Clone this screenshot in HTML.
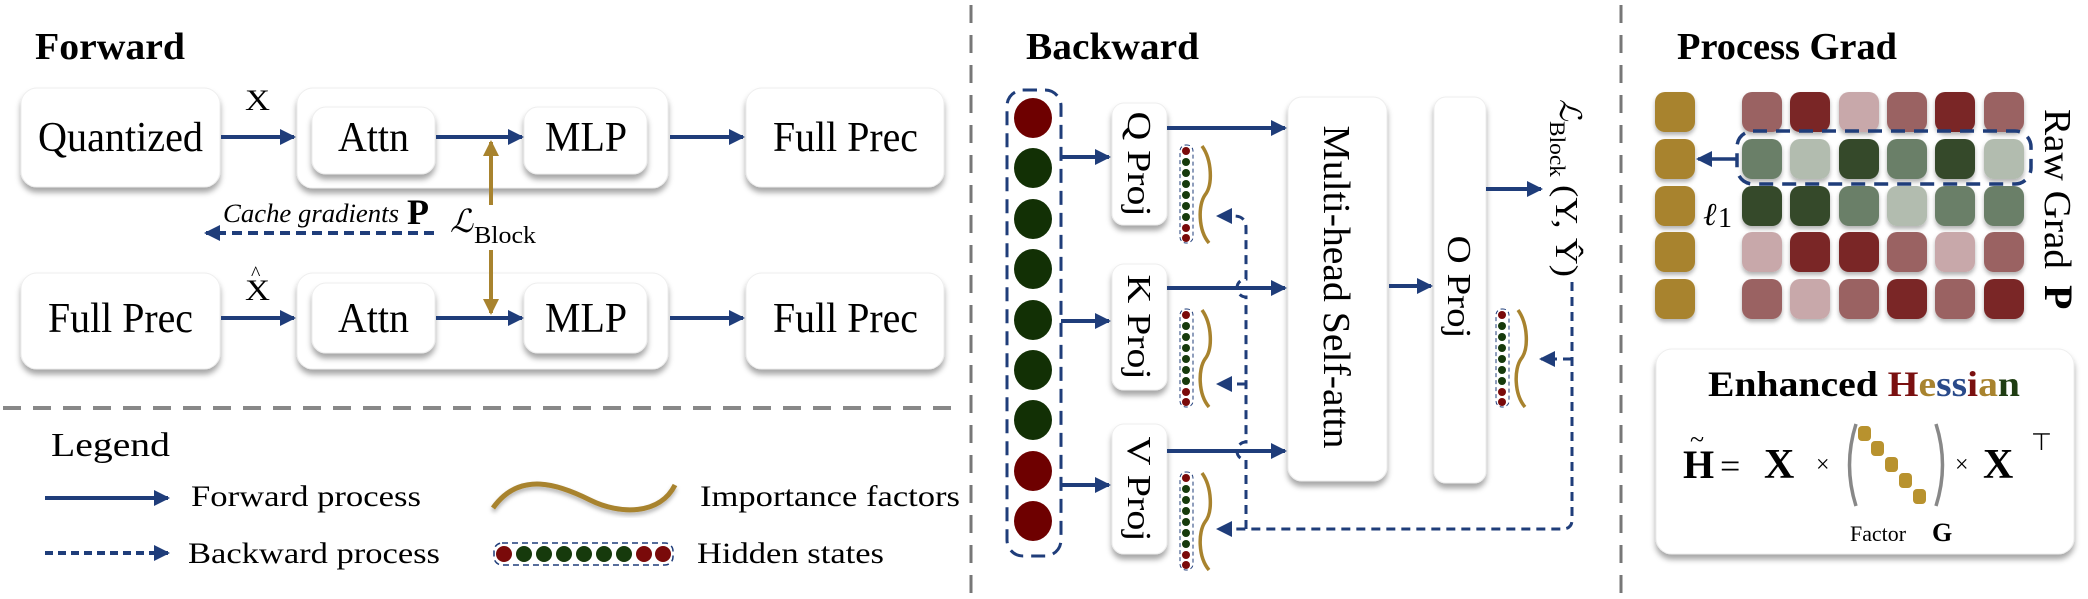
<!DOCTYPE html>
<html><head><meta charset="utf-8"><style>
html,body{margin:0;padding:0;background:#fff}
svg{display:block}
svg text{font-family:"Liberation Serif","Times New Roman",serif}
</style></head><body>
<svg width="2088" height="599" viewBox="0 0 2088 599" xmlns="http://www.w3.org/2000/svg" font-family="Liberation Serif, serif">
<defs>
<filter id="sh" x="-20%" y="-20%" width="140%" height="150%"><feDropShadow dx="0" dy="5" stdDeviation="3" flood-color="#000" flood-opacity="0.35"/></filter>
<filter id="sh2" x="-30%" y="-30%" width="160%" height="160%"><feDropShadow dx="0" dy="3" stdDeviation="2" flood-color="#000" flood-opacity="0.3"/></filter>
<marker id="ahb" markerWidth="16" markerHeight="16" refX="14" refY="8" orient="auto" markerUnits="userSpaceOnUse"><path d="M0,0 L16,8 L0,16 z" fill="#1f3d7a"/></marker>
<marker id="ahg" markerWidth="16" markerHeight="16" refX="14" refY="8" orient="auto" markerUnits="userSpaceOnUse"><path d="M0,0 L16,8 L0,16 z" fill="#a8832e"/></marker>
</defs>

<line x1="971" y1="5" x2="971" y2="595" stroke="#777" stroke-width="3" stroke-dasharray="18,12"/>
<line x1="1621" y1="5" x2="1621" y2="595" stroke="#777" stroke-width="3" stroke-dasharray="18,12"/>
<line x1="3" y1="408" x2="957" y2="408" stroke="#888" stroke-width="4" stroke-dasharray="18,12"/>

<text x="35" y="59" font-size="38" font-weight="bold" textLength="150" lengthAdjust="spacingAndGlyphs">Forward</text>

<g filter="url(#sh)" fill="#fff" stroke="#eee" stroke-width="1">
<rect x="21" y="88" width="199" height="99" rx="16"/>
<rect x="297" y="88" width="371" height="100" rx="16"/>
<rect x="746" y="88" width="198" height="99" rx="16"/>
<rect x="21" y="273" width="199" height="96" rx="16"/>
<rect x="297" y="273" width="371" height="96" rx="16"/>
<rect x="746" y="273" width="198" height="96" rx="16"/>
</g>
<g filter="url(#sh)" fill="#fff" stroke="#eee" stroke-width="1">
<rect x="312" y="107" width="123" height="67" rx="14"/>
<rect x="524" y="107" width="123" height="67" rx="14"/>
<rect x="312" y="283" width="123" height="70" rx="14"/>
<rect x="524" y="283" width="123" height="70" rx="14"/>
</g>
<g font-size="42">
<text x="38" y="151" textLength="165" lengthAdjust="spacingAndGlyphs">Quantized</text>
<text x="338" y="151" textLength="71" lengthAdjust="spacingAndGlyphs">Attn</text>
<text x="545" y="151" textLength="82" lengthAdjust="spacingAndGlyphs">MLP</text>
<text x="773" y="151" textLength="145" lengthAdjust="spacingAndGlyphs">Full Prec</text>
<text x="48" y="332" textLength="145" lengthAdjust="spacingAndGlyphs">Full Prec</text>
<text x="338" y="332" textLength="71" lengthAdjust="spacingAndGlyphs">Attn</text>
<text x="545" y="332" textLength="82" lengthAdjust="spacingAndGlyphs">MLP</text>
<text x="773" y="332" textLength="145" lengthAdjust="spacingAndGlyphs">Full Prec</text>
</g>
<text x="245" y="110" font-size="30" textLength="25" lengthAdjust="spacingAndGlyphs">X</text>
<text x="245" y="300" font-size="30" textLength="25" lengthAdjust="spacingAndGlyphs">X</text>
<text x="251" y="280" font-size="20">^</text>

<g stroke="#1f3d7a" stroke-width="4" fill="none">
<line x1="221" y1="137" x2="294" y2="137" marker-end="url(#ahb)"/>
<line x1="436" y1="137" x2="522" y2="137" marker-end="url(#ahb)"/>
<line x1="670" y1="137" x2="743" y2="137" marker-end="url(#ahb)"/>
<line x1="221" y1="318" x2="294" y2="318" marker-end="url(#ahb)"/>
<line x1="436" y1="318" x2="522" y2="318" marker-end="url(#ahb)"/>
<line x1="670" y1="318" x2="743" y2="318" marker-end="url(#ahb)"/>
<line x1="434" y1="233" x2="206" y2="233" stroke-dasharray="10,6" marker-end="url(#ahb)"/>
</g>
<g stroke="#a8832e" stroke-width="4" fill="none">
<line x1="491" y1="205" x2="491" y2="142" marker-end="url(#ahg)"/>
<line x1="491" y1="250" x2="491" y2="313" marker-end="url(#ahg)"/>
</g>
<text x="223" y="222" font-size="26" font-style="italic" textLength="176" lengthAdjust="spacingAndGlyphs">Cache gradients</text>
<text x="407" y="224" font-size="36" font-weight="bold">P</text>
<text x="450" y="232" font-size="32" font-style="italic">ℒ</text>
<text x="474" y="243" font-size="24" textLength="62" lengthAdjust="spacingAndGlyphs">Block</text>

<text x="51" y="456" font-size="34" textLength="119" lengthAdjust="spacingAndGlyphs">Legend</text>
<line x1="45" y1="498" x2="168" y2="498" stroke="#1f3d7a" stroke-width="4" marker-end="url(#ahb)"/>
<line x1="45" y1="553" x2="168" y2="553" stroke="#1f3d7a" stroke-width="4" stroke-dasharray="8,5" marker-end="url(#ahb)"/>
<text x="191" y="506" font-size="30" textLength="230" lengthAdjust="spacingAndGlyphs">Forward process</text>
<text x="188" y="563" font-size="30" textLength="252" lengthAdjust="spacingAndGlyphs">Backward process</text>
<path d="M493,508 C520,470 560,485 590,500 C620,515 660,515 675,485" stroke="#a8832e" stroke-width="5" fill="none" filter="url(#sh2)"/>
<text x="700" y="506" font-size="30" textLength="260" lengthAdjust="spacingAndGlyphs">Importance factors</text>
<rect x="494" y="543" width="179" height="22" rx="8" fill="none" stroke="#1f3d7a" stroke-width="1.5" stroke-dasharray="6,4"/>
<g>
<circle cx="504" cy="554" r="8" fill="#7a0a0a"/>
<circle cx="524" cy="554" r="8" fill="#163a0c"/>
<circle cx="544" cy="554" r="8" fill="#163a0c"/>
<circle cx="564" cy="554" r="8" fill="#163a0c"/>
<circle cx="584" cy="554" r="8" fill="#163a0c"/>
<circle cx="604" cy="554" r="8" fill="#163a0c"/>
<circle cx="624" cy="554" r="8" fill="#163a0c"/>
<circle cx="644" cy="554" r="8" fill="#7a0a0a"/>
<circle cx="663" cy="554" r="8" fill="#7a0a0a"/>
</g>
<text x="697" y="563" font-size="30" textLength="187" lengthAdjust="spacingAndGlyphs">Hidden states</text>

<text x="1026" y="59" font-size="38" font-weight="bold" textLength="173" lengthAdjust="spacingAndGlyphs">Backward</text>
<rect x="1007" y="90" width="54" height="466" rx="16" fill="none" stroke="#1f3d7a" stroke-width="3" stroke-dasharray="14,8"/>
<g>
<ellipse cx="1033" cy="118" rx="19" ry="20" fill="#6e0000"/>
<ellipse cx="1033" cy="168" rx="19" ry="20" fill="#123005"/>
<ellipse cx="1033" cy="219" rx="19" ry="20" fill="#123005"/>
<ellipse cx="1033" cy="269" rx="19" ry="20" fill="#123005"/>
<ellipse cx="1033" cy="320" rx="19" ry="20" fill="#123005"/>
<ellipse cx="1033" cy="370" rx="19" ry="20" fill="#123005"/>
<ellipse cx="1033" cy="420" rx="19" ry="20" fill="#123005"/>
<ellipse cx="1033" cy="471" rx="19" ry="20" fill="#6e0000"/>
<ellipse cx="1033" cy="521" rx="19" ry="20" fill="#6e0000"/>
</g>
<g filter="url(#sh)" fill="#fff" stroke="#eee" stroke-width="1">
<rect x="1112" y="103" width="55" height="122" rx="12"/>
<rect x="1112" y="264" width="55" height="126" rx="12"/>
<rect x="1112" y="424" width="55" height="130" rx="12"/>
<rect x="1288" y="97" width="99" height="384" rx="14"/>
<rect x="1434" y="97" width="52" height="386" rx="12"/>
</g>
<g font-size="34">
<text transform="translate(1128,164) rotate(90)" text-anchor="middle" textLength="105" lengthAdjust="spacingAndGlyphs">Q Proj</text>
<text transform="translate(1128,327) rotate(90)" text-anchor="middle" textLength="105" lengthAdjust="spacingAndGlyphs">K Proj</text>
<text transform="translate(1128,489) rotate(90)" text-anchor="middle" textLength="105" lengthAdjust="spacingAndGlyphs">V Proj</text>
<text transform="translate(1324,287) rotate(90)" text-anchor="middle" font-size="38" textLength="323" lengthAdjust="spacingAndGlyphs">Multi-head Self-attn</text>
<text transform="translate(1448,287) rotate(90)" text-anchor="middle" textLength="103" lengthAdjust="spacingAndGlyphs">O Proj</text>
</g>
<g transform="translate(1560,99) rotate(90)">
<text x="0" y="0" font-size="30" font-style="italic">ℒ</text>
<text x="22" y="10" font-size="22" textLength="56" lengthAdjust="spacingAndGlyphs">Block</text>
<text x="86" y="4" font-size="32" textLength="92" lengthAdjust="spacingAndGlyphs">(Y, Ŷ)</text>
</g>

<g stroke="#1f3d7a" stroke-width="4" fill="none">
<line x1="1061" y1="157" x2="1109" y2="157" marker-end="url(#ahb)"/>
<line x1="1061" y1="321" x2="1109" y2="321" marker-end="url(#ahb)"/>
<line x1="1061" y1="485" x2="1109" y2="485" marker-end="url(#ahb)"/>
<line x1="1167" y1="128" x2="1285" y2="128" marker-end="url(#ahb)"/>
<line x1="1167" y1="288" x2="1285" y2="288" marker-end="url(#ahb)"/>
<line x1="1167" y1="451" x2="1285" y2="451" marker-end="url(#ahb)"/>
<line x1="1389" y1="286" x2="1431" y2="286" marker-end="url(#ahb)"/>
<line x1="1486" y1="189" x2="1541" y2="189" marker-end="url(#ahb)"/>
</g>
<g stroke="#1f3d7a" stroke-width="3" fill="none" stroke-dasharray="9,6">
<path d="M1572,282 L1572,520 Q1572,529 1562,529 L1218,529" marker-end="url(#ahb)"/>
<path d="M1572,359 L1541,359" marker-end="url(#ahb)"/>
<path d="M1246,529 L1246,460 A9,9 0 0 1 1246,442 L1246,297 A9,9 0 0 1 1246,279 L1246,228 Q1246,216 1234,216 L1218,216" marker-end="url(#ahb)"/>
<path d="M1246,384 L1218,384" marker-end="url(#ahb)"/>
</g>

<g id="mini">
<rect x="1180" y="145" width="13" height="98" rx="6" fill="none" stroke="#1f3d7a" stroke-width="1" stroke-dasharray="4,3"/>
<circle cx="1186" cy="151" r="4" fill="#7a0a0a"/><circle cx="1186" cy="162" r="4" fill="#163a0c"/><circle cx="1186" cy="173" r="4" fill="#163a0c"/><circle cx="1186" cy="184" r="4" fill="#163a0c"/><circle cx="1186" cy="195" r="4" fill="#163a0c"/><circle cx="1186" cy="206" r="4" fill="#163a0c"/><circle cx="1186" cy="217" r="4" fill="#163a0c"/><circle cx="1186" cy="228" r="4" fill="#7a0a0a"/><circle cx="1186" cy="238" r="4" fill="#7a0a0a"/>
<path d="M1202,146 C1212,160 1213,185 1205,195 C1198,205 1198,230 1209,243" stroke="#a8832e" stroke-width="3.5" fill="none"/>
</g>
<use href="#mini" x="0" y="164"/>
<use href="#mini" x="0" y="327"/>
<use href="#mini" x="316" y="164"/>

<text x="1677" y="59" font-size="38" font-weight="bold" textLength="220" lengthAdjust="spacingAndGlyphs">Process Grad</text>
<g filter="url(#sh2)">
<rect x="1655" y="92" width="40" height="40" rx="10" fill="#a8832e"/>
<rect x="1655" y="139" width="40" height="40" rx="10" fill="#a8832e"/>
<rect x="1655" y="186" width="40" height="40" rx="10" fill="#a8832e"/>
<rect x="1655" y="232" width="40" height="40" rx="10" fill="#a8832e"/>
<rect x="1655" y="279" width="40" height="40" rx="10" fill="#a8832e"/>
</g>
<g filter="url(#sh2)">
<rect x="1742" y="92" width="40" height="40" rx="10" fill="#9a6262"/>
<rect x="1790" y="92" width="40" height="40" rx="10" fill="#7a2828"/>
<rect x="1839" y="92" width="40" height="40" rx="10" fill="#c8a8aa"/>
<rect x="1887" y="92" width="40" height="40" rx="10" fill="#9a6262"/>
<rect x="1935" y="92" width="40" height="40" rx="10" fill="#7a2828"/>
<rect x="1984" y="92" width="40" height="40" rx="10" fill="#9a6262"/>
<rect x="1742" y="139" width="40" height="40" rx="10" fill="#6a7f68"/>
<rect x="1790" y="139" width="40" height="40" rx="10" fill="#b2bcaf"/>
<rect x="1839" y="139" width="40" height="40" rx="10" fill="#344a2a"/>
<rect x="1887" y="139" width="40" height="40" rx="10" fill="#6a7f68"/>
<rect x="1935" y="139" width="40" height="40" rx="10" fill="#344a2a"/>
<rect x="1984" y="139" width="40" height="40" rx="10" fill="#b2bcaf"/>
<rect x="1742" y="186" width="40" height="40" rx="10" fill="#344a2a"/>
<rect x="1790" y="186" width="40" height="40" rx="10" fill="#344a2a"/>
<rect x="1839" y="186" width="40" height="40" rx="10" fill="#6a7f68"/>
<rect x="1887" y="186" width="40" height="40" rx="10" fill="#b2bcaf"/>
<rect x="1935" y="186" width="40" height="40" rx="10" fill="#6a7f68"/>
<rect x="1984" y="186" width="40" height="40" rx="10" fill="#6a7f68"/>
<rect x="1742" y="232" width="40" height="40" rx="10" fill="#c8a8aa"/>
<rect x="1790" y="232" width="40" height="40" rx="10" fill="#7a2828"/>
<rect x="1839" y="232" width="40" height="40" rx="10" fill="#7a2828"/>
<rect x="1887" y="232" width="40" height="40" rx="10" fill="#9a6262"/>
<rect x="1935" y="232" width="40" height="40" rx="10" fill="#c8a8aa"/>
<rect x="1984" y="232" width="40" height="40" rx="10" fill="#9a6262"/>
<rect x="1742" y="279" width="40" height="40" rx="10" fill="#9a6262"/>
<rect x="1790" y="279" width="40" height="40" rx="10" fill="#c8a8aa"/>
<rect x="1839" y="279" width="40" height="40" rx="10" fill="#9a6262"/>
<rect x="1887" y="279" width="40" height="40" rx="10" fill="#7a2828"/>
<rect x="1935" y="279" width="40" height="40" rx="10" fill="#9a6262"/>
<rect x="1984" y="279" width="40" height="40" rx="10" fill="#7a2828"/>
</g>
<rect x="1737" y="131" width="294" height="53" rx="16" fill="none" stroke="#1f3d7a" stroke-width="3.5" stroke-dasharray="14,9"/>
<line x1="1736" y1="159" x2="1698" y2="159" stroke="#1f3d7a" stroke-width="3.5" marker-end="url(#ahb)"/>
<text x="1703" y="225" font-size="32" font-style="italic">ℓ</text>
<text x="1718" y="227" font-size="28">1</text>
<text transform="translate(2045,109) rotate(90)" font-size="38" textLength="160" lengthAdjust="spacingAndGlyphs">Raw Grad</text>
<text transform="translate(2045,285) rotate(90)" font-size="40" font-weight="bold">P</text>

<rect x="1656" y="349" width="418" height="205" rx="16" fill="#fff" stroke="#eee" filter="url(#sh)"/>
<text x="1708" y="396" font-size="36" font-weight="bold" textLength="312" lengthAdjust="spacingAndGlyphs" fill="#000">Enhanced <tspan fill="#7a1010">H</tspan><tspan fill="#a8832e">e</tspan><tspan fill="#2a4a8a">ss</tspan><tspan fill="#7a1010">i</tspan><tspan fill="#a8832e">a</tspan><tspan fill="#1f3d12">n</tspan></text>
<text x="1683" y="478" font-size="40" font-weight="bold">H</text>
<text x="1690" y="448" font-size="26">~</text>
<text x="1720" y="478" font-size="36">=</text>
<text x="1764" y="478" font-size="42" font-weight="bold">X</text>
<text x="1816" y="472" font-size="24">×</text>
<path d="M1856,424 Q1843,465 1856,506" stroke="#888" stroke-width="3.5" fill="none"/>
<path d="M1936,424 Q1949,465 1936,506" stroke="#888" stroke-width="3.5" fill="none"/>
<g fill="#b8922e">
<rect x="1858" y="426" width="13" height="15" rx="4"/>
<rect x="1871" y="441" width="13" height="15" rx="4"/>
<rect x="1885" y="457" width="13" height="15" rx="4"/>
<rect x="1899" y="473" width="13" height="15" rx="4"/>
<rect x="1913" y="489" width="13" height="15" rx="4"/>
</g>
<text x="1955" y="472" font-size="24">×</text>
<text x="1983" y="478" font-size="42" font-weight="bold">X</text>
<text x="2031" y="450" font-size="24">⊤</text>
<text x="1850" y="541" font-size="22" textLength="56" lengthAdjust="spacingAndGlyphs">Factor</text>
<text x="1932" y="541" font-size="26" font-weight="bold">G</text>
</svg>
</body></html>
